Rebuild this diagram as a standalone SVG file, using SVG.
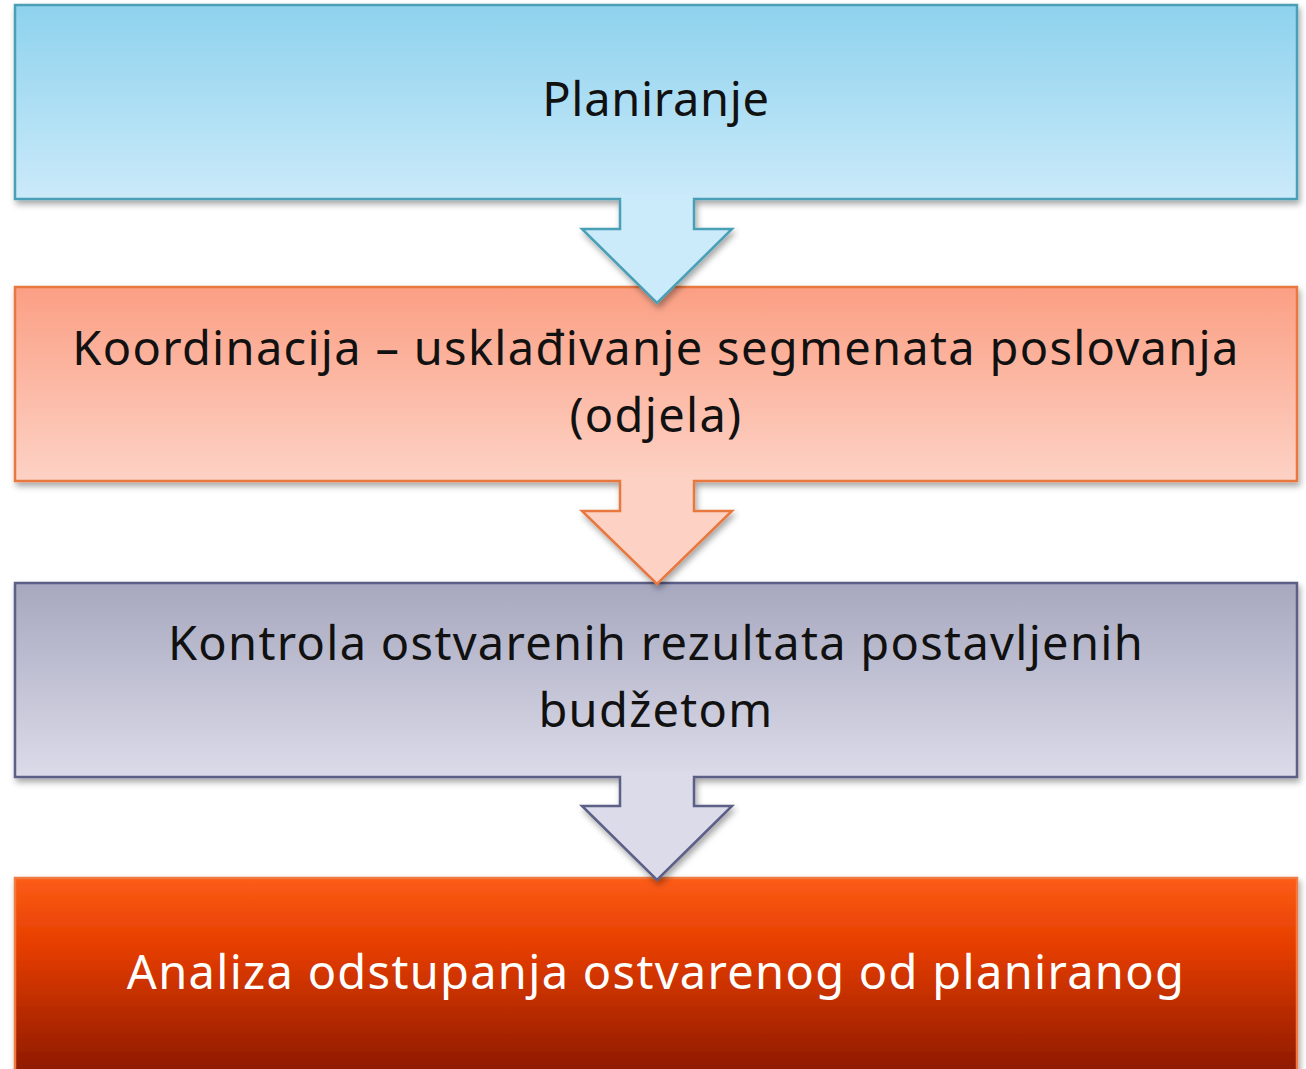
<svg xmlns="http://www.w3.org/2000/svg" width="1306" height="1069" viewBox="0 0 1306 1069">
<defs>
<linearGradient id="g1" x1="0" y1="0" x2="0" y2="1"><stop offset="0" stop-color="#8ed2ed"/><stop offset="1" stop-color="#cbeafa"/></linearGradient>
<linearGradient id="g2" x1="0" y1="0" x2="0" y2="1"><stop offset="0" stop-color="#fb9f84"/><stop offset="1" stop-color="#fdd2c5"/></linearGradient>
<linearGradient id="g3" x1="0" y1="0" x2="0" y2="1"><stop offset="0" stop-color="#a7a8bf"/><stop offset="1" stop-color="#dbdbe9"/></linearGradient>
<linearGradient id="g4" x1="0" y1="0" x2="0" y2="1"><stop offset="0" stop-color="#fc5c16"/><stop offset="0.35" stop-color="#e53d00"/><stop offset="1" stop-color="#8a1800"/></linearGradient>
<filter id="sh" x="-5%" y="-10%" width="110%" height="130%"><feDropShadow dx="2" dy="4" stdDeviation="3" flood-color="#000" flood-opacity="0.35"/></filter>
</defs>
<style>
.box{stroke-width:2.5;filter:url(#sh)}
.arr{stroke-width:2.5;stroke-linejoin:miter;filter:url(#sh)}
.t{font-family:"Noto Sans","DejaVu Sans",sans-serif;font-size:47px;text-anchor:middle;fill:#111;letter-spacing:1.3px}
</style>
<rect width="1306" height="1069" fill="#fff"/>
<g id="node1">
<rect class="box" x="15" y="5" width="1282" height="194" fill="url(#g1)" stroke="#4aa0b6"/>
<text class="t" x="656" y="116" style="letter-spacing:0.7px">Planiranje</text>
</g>
<g id="node2">
<rect class="box" x="15" y="287" width="1282" height="194" fill="url(#g2)" stroke="#e8783f"/>
<text class="t" x="656" y="365">Koordinacija – usklađivanje segmenata poslovanja</text>
<text class="t" x="656" y="432">(odjela)</text>
</g>
<g id="node3">
<rect class="box" x="15" y="583" width="1282" height="194" fill="url(#g3)" stroke="#5b5e86"/>
<text class="t" x="656" y="660">Kontrola ostvarenih rezultata postavljenih</text>
<text class="t" x="656" y="727">budžetom</text>
</g>
<g id="node4">
<rect class="box" x="15" y="878" width="1282" height="200" fill="url(#g4)" stroke="#f07a40"/>
<text class="t" x="656" y="989" style="fill:#fff">Analiza odstupanja ostvarenog od planiranog</text>
</g>
<g id="connectors">
<path class="arr" d="M620,199 V229 H582 L657,303 L732,229 H694 V199" fill="#cbeafa" stroke="#4aa0b6"/>
<rect x="621.3" y="195" width="71.4" height="5" fill="#cbeafa"/>
<path class="arr" d="M620,481 V511 H582 L657,584 L732,511 H694 V481" fill="#fdd2c5" stroke="#e8783f"/>
<rect x="621.3" y="477" width="71.4" height="5" fill="#fdd2c5"/>
<path class="arr" d="M620,777 V806 H582 L657,880 L732,806 H694 V777" fill="#dbdbe9" stroke="#5b5e86"/>
<rect x="621.3" y="773" width="71.4" height="5" fill="#dbdbe9"/>
</g>
</svg>
